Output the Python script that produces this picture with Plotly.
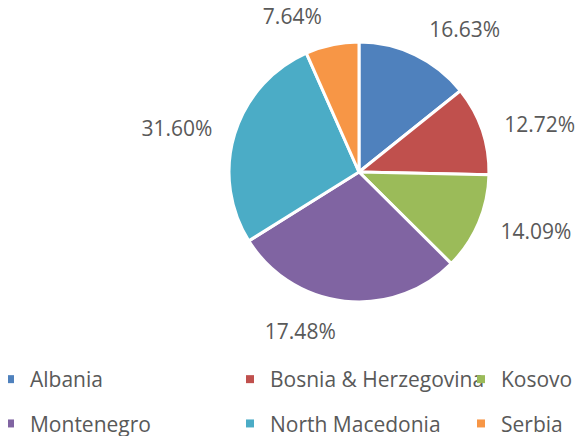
import plotly.graph_objects as go

# data
countries = ["Albania", "Bosnia & Herzegovina", "Kosovo",
             "Montenegro", "North Macedonia", "Serbia"]
slice_sizes = [14.25, 11.08, 12.11, 28.67, 27.25, 6.64]
label_text = ["16.63%", "12.72%", "14.09%", "17.48%", "31.60%", "7.64%"]
colors = ["#4F81BD", "#C0504D", "#9BBB59", "#8064A2", "#4BACC6", "#F79646"]
# legend column of each country (Excel lays the legend out in a 3x2 grid)
legend_columns = ["legend", "legend2", "legend3",
                  "legend", "legend2", "legend3"]

FONT = "Open Sans, Liberation Sans, sans-serif"
TEXT_COLOR = "#595959"
FONT_SIZE = 21


def legend_style(x: float) -> dict:
    """Vertical legend used as one column of the bottom legend grid"""
    return dict(
        orientation="v",
        x=x,
        xanchor="left",
        y=0.0,
        yanchor="bottom",
        font=dict(family=FONT, size=FONT_SIZE, color=TEXT_COLOR),
        bgcolor="rgba(0,0,0,0)",
        traceorder="grouped",
        tracegroupgap=14,
    )


def create_pie() -> go.Figure:
    """Pie chart with custom percent labels and bottom legend"""
    fig = go.Figure()
    # the coloured pie itself
    fig.add_trace(
        go.Pie(
            labels=countries,
            values=slice_sizes,
            textinfo="none",
            sort=False,
            direction="clockwise",
            rotation=0,
            marker=dict(colors=colors, line=dict(color="white", width=3)),
            domain=dict(x=[0.3791, 0.8250], y=[0.3257, 0.9220]),
            hoverinfo="label+text",
            text=label_text,
            showlegend=False,
        )
    )
    # a slightly larger invisible copy that carries the outside labels,
    # so they sit a little further from the rim as in Excel
    fig.add_trace(
        go.Pie(
            labels=countries,
            values=slice_sizes,
            text=label_text,
            textinfo="text",
            textposition="outside",
            sort=False,
            direction="clockwise",
            rotation=0,
            marker=dict(colors=["rgba(0,0,0,0)"] * len(countries),
                        line=dict(width=0)),
            outsidetextfont=dict(family=FONT, size=FONT_SIZE, color=TEXT_COLOR),
            domain=dict(x=[0.3516, 0.8525], y=[0.2890, 0.9587]),
            hoverinfo="skip",
            showlegend=False,
        )
    )
    # legend entries, one per country, split over three columns
    for name, color, leg in zip(countries, colors, legend_columns):
        fig.add_trace(
            go.Scatter(
                x=[None],
                y=[None],
                mode="markers",
                name=name,
                legend=leg,
                legendgroup=name,
                marker=dict(symbol="square", size=8, color=color),
            )
        )
    fig.update_layout(
        width=583,
        height=436,
        paper_bgcolor="white",
        plot_bgcolor="white",
        margin=dict(l=0, r=0, t=0, b=0, autoexpand=False),
        font=dict(family=FONT, size=FONT_SIZE, color=TEXT_COLOR),
        xaxis=dict(visible=False),
        yaxis=dict(visible=False),
        legend=legend_style(-0.0309),
        legend2=legend_style(0.3808),
        legend3=legend_style(0.7770),
    )
    return fig


fig = create_pie()
fig.write_html("out.html")
